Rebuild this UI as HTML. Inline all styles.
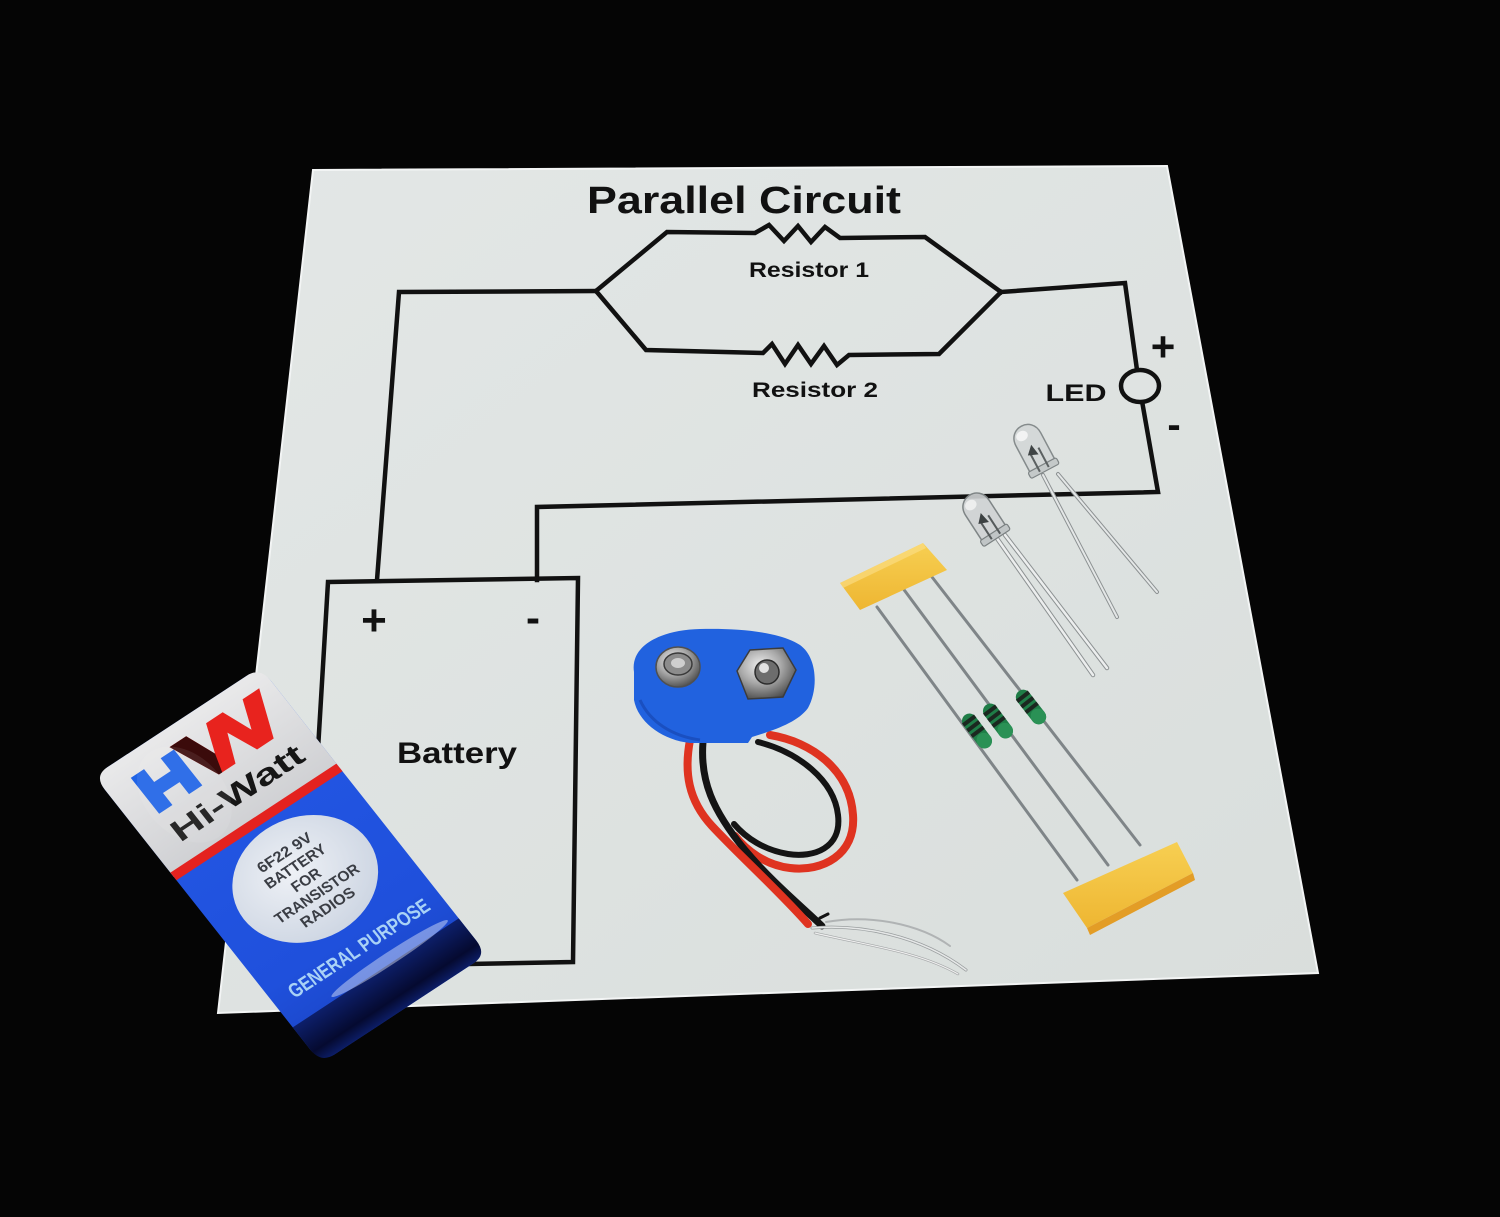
<!DOCTYPE html>
<html>
<head>
<meta charset="utf-8">
<style>
  html,body{margin:0;padding:0;background:#050505;}
  svg{display:block;}
  text{font-family:"Liberation Sans", Arial, sans-serif;}
</style>
</head>
<body>
<svg width="1500" height="1217" viewBox="0 0 1500 1217" xmlns="http://www.w3.org/2000/svg">
  <defs>
    <linearGradient id="paper" x1="0" y1="0" x2="1" y2="1">
      <stop offset="0" stop-color="#e3e7e6"/>
      <stop offset="1" stop-color="#d9dedc"/>
    </linearGradient>
    <linearGradient id="cap" x1="0" y1="0" x2="0" y2="1">
      <stop offset="0" stop-color="#e9e9ea"/>
      <stop offset="1" stop-color="#cfd0d3"/>
    </linearGradient>
    <linearGradient id="blue" x1="0" y1="0" x2="0" y2="1">
      <stop offset="0" stop-color="#2458e6"/>
      <stop offset="0.75" stop-color="#1f50dc"/>
      <stop offset="1" stop-color="#1a44c4"/>
    </linearGradient>
    <linearGradient id="navy" x1="0" y1="0" x2="0" y2="1">
      <stop offset="0" stop-color="#0d1f6a"/>
      <stop offset="0.7" stop-color="#050a30"/>
      <stop offset="1" stop-color="#0c1d66"/>
    </linearGradient>
    <radialGradient id="lbl" cx="0.45" cy="0.4" r="0.7">
      <stop offset="0" stop-color="#eef1f6"/>
      <stop offset="1" stop-color="#c9d2e0"/>
    </radialGradient>
    <radialGradient id="metal" cx="0.4" cy="0.35" r="0.7">
      <stop offset="0" stop-color="#f0f0f0"/>
      <stop offset="0.5" stop-color="#a8a8a8"/>
      <stop offset="1" stop-color="#4a4a4a"/>
    </radialGradient>
    <linearGradient id="tape" x1="0" y1="0" x2="0" y2="1">
      <stop offset="0" stop-color="#f7cf52"/>
      <stop offset="1" stop-color="#eeb632"/>
    </linearGradient>
  </defs>

  <!-- background -->
  <rect x="0" y="0" width="1500" height="1217" fill="#050505"/>

  <!-- paper -->
  <polygon points="313,170 1167,166 1318,973 218,1013" fill="url(#paper)" stroke="#f3f5f5" stroke-width="2"/>

  <!-- circuit wiring -->
  <g fill="none" stroke="#111" stroke-width="4.5" stroke-linejoin="miter" stroke-linecap="square">
    <polyline points="377,580 399,292 596,291"/>
    <polyline points="596,291 667,232 755,233 769,225 784,241 798,226 811,242 825,227 840,238 925,237 1001,292"/>
    <polyline points="596,291 646,350 763,353 772,344 785,364 798,345 811,364 824,346 837,365 849,355 939,354 1001,292"/>
    <polyline points="1001,292 1125,283 1137,370"/>
    <polyline points="1142,401 1158,492 537,507 537,580"/>
    <ellipse cx="1140" cy="386" rx="19" ry="16" fill="#dfe3e2"/>
    <polygon points="328,582 578,578 573,962 305,967"/>
  </g>

  <!-- labels -->
  <g fill="#111" font-weight="bold">
    <text x="744" y="213" text-anchor="middle" font-size="38" textLength="314" lengthAdjust="spacingAndGlyphs">Parallel Circuit</text>
    <text x="809" y="277" text-anchor="middle" font-size="21" textLength="120" lengthAdjust="spacingAndGlyphs">Resistor 1</text>
    <text x="815" y="397" text-anchor="middle" font-size="21" textLength="126" lengthAdjust="spacingAndGlyphs">Resistor 2</text>
    <text x="1076" y="401" text-anchor="middle" font-size="24" textLength="61" lengthAdjust="spacingAndGlyphs">LED</text>
    <text x="1163" y="361" text-anchor="middle" font-size="42">+</text>
    <text x="1174" y="438" text-anchor="middle" font-size="40">-</text>
    <text x="374" y="635" text-anchor="middle" font-size="44">+</text>
    <text x="533" y="632" text-anchor="middle" font-size="42">-</text>
    <text x="457" y="763" text-anchor="middle" font-size="30" textLength="120" lengthAdjust="spacingAndGlyphs">Battery</text>
  </g>

  <!-- 9V battery -->
  <g transform="matrix(0.83,-0.545,0.676,0.855,94,776)">
    <rect x="0" y="0" width="200" height="336" rx="16" fill="url(#blue)"/>
    <path d="M0,118 L0,16 Q0,0 16,0 L184,0 Q200,0 200,16 L200,118 Z" fill="url(#cap)"/>
    <rect x="0" y="113" width="200" height="9" fill="#e4221f"/>
    <path d="M28,20 L44,20 L44,35 L64,35 L64,20 L80,20 L80,62 L64,62 L64,48 L44,48 L44,62 L28,62 Z" fill="#1f63e6"/>
    <polygon points="78,16 98,16 110,44 122,16 142,16 154,44 166,16 186,16 166,62 146,62 133,34 120,62 100,62" fill="#e8231e"/>
    <polygon points="78,16 98,16 110,44 104,62 100,62" fill="#3b0b0b"/>
    <text x="103" y="95" text-anchor="middle" font-size="28" font-weight="900" fill="#161616" textLength="153" lengthAdjust="spacingAndGlyphs">Hi-Watt</text>
    <ellipse cx="103" cy="186" rx="74" ry="58" fill="url(#lbl)"/>
    <g fill="#3a3d44" font-size="14" text-anchor="middle" font-weight="bold">
      <text x="103" y="160" textLength="62" lengthAdjust="spacingAndGlyphs">6F22 9V</text>
      <text x="103" y="176" textLength="70" lengthAdjust="spacingAndGlyphs">BATTERY</text>
      <text x="103" y="192" textLength="32" lengthAdjust="spacingAndGlyphs">FOR</text>
      <text x="103" y="208" textLength="98" lengthAdjust="spacingAndGlyphs">TRANSISTOR</text>
      <text x="103" y="224" textLength="62" lengthAdjust="spacingAndGlyphs">RADIOS</text>
    </g>
    <text x="102" y="273" text-anchor="middle" font-size="19" font-weight="bold" fill="#a9d2f6" textLength="165" lengthAdjust="spacingAndGlyphs">GENERAL PURPOSE</text>
    <path d="M0,294 L200,294 L200,320 Q200,336 184,336 L16,336 Q0,336 0,320 Z" fill="url(#navy)"/>
    <ellipse cx="120" cy="290" rx="70" ry="6" fill="#ffffff" opacity="0.4"/>
    <ellipse cx="60" cy="60" rx="40" ry="50" fill="#ffffff" opacity="0.08"/>
  </g>

  <!-- snap connector wires -->
  <g fill="none" stroke-linecap="round" stroke-linejoin="round">
    <path d="M770,735 C812,742 850,770 853,815 C856,855 822,872 790,868 C765,865 746,850 735,836" stroke="#df3320" stroke-width="8"/>
    <path d="M758,742 C798,752 834,780 838,815 C842,848 814,858 788,854 C764,850 746,838 734,824" stroke="#141414" stroke-width="6"/>
    <path d="M703,742 C700,780 712,810 745,850 C770,880 800,905 822,926" stroke="#141414" stroke-width="7"/>
    <path d="M690,740 C684,772 688,800 712,826 C740,856 780,892 808,924" stroke="#df3320" stroke-width="8"/>
    <path d="M812,928 C860,924 920,935 966,970" stroke="#9a9e9f" stroke-width="3"/>
    <path d="M812,928 C860,924 920,935 966,970" stroke="#e6e8e8" stroke-width="1.5"/>
    <path d="M815,933 C870,946 920,952 958,974" stroke="#a3a6a7" stroke-width="2.5"/>
    <path d="M815,933 C870,946 920,952 958,974" stroke="#eeeeee" stroke-width="1.2"/>
    <path d="M826,922 C870,914 920,924 950,946" stroke="#b0b3b4" stroke-width="2"/>
    <path d="M820,918 L828,914" stroke="#141414" stroke-width="3"/>
  </g>

  <!-- snap body -->
  <path d="M634,672 C630,646 660,630 700,629 C740,628 780,632 800,645 C818,658 818,690 808,708 C798,722 775,730 752,737 L748,743 L690,743 C662,740 638,722 634,700 Z" fill="#2162df"/>
  <path d="M640,700 C650,722 672,736 700,740" fill="none" stroke="#1a4fc0" stroke-width="3"/>
  <ellipse cx="678" cy="667" rx="22" ry="20" fill="url(#metal)" stroke="#505050" stroke-width="1.5"/>
  <ellipse cx="678" cy="664" rx="14" ry="11" fill="#8c8c8c" stroke="#3a3a3a" stroke-width="1.5"/>
  <ellipse cx="678" cy="663" rx="7" ry="5" fill="#cfcfcf"/>
  <polygon points="737,671 750,650 783,648 796,670 783,697 748,699" fill="url(#metal)" stroke="#3c3c3c" stroke-width="1.5"/>
  <circle cx="767" cy="672" r="12" fill="#6d6d6d" stroke="#2c2c2c" stroke-width="1.5"/>
  <circle cx="764" cy="668" r="5" fill="#e2e2e2"/>

  <!-- resistor leads -->
  <g fill="none" stroke="#7f8588" stroke-width="3" stroke-linecap="round">
    <path d="M877,607 L1077,880"/>
    <path d="M902,587 L1108,865"/>
    <path d="M932,577 L1140,845"/>
  </g>
  <g>
    <g transform="translate(977,731) rotate(53)">
      <rect x="-20" y="-7.5" width="40" height="15" rx="7.5" fill="#1f7d47"/>
      <rect x="-15" y="-7.5" width="4" height="15" fill="#1b2820"/>
      <rect x="-8" y="-7.5" width="4" height="15" fill="#1b2820"/>
      <rect x="-1" y="-7.5" width="4" height="15" fill="#1b2820"/>
      <ellipse cx="12" cy="0" rx="8" ry="7.5" fill="#2a9155"/>
    </g>
    <g transform="translate(998,721) rotate(53)">
      <rect x="-20" y="-7.5" width="40" height="15" rx="7.5" fill="#1f7d47"/>
      <rect x="-15" y="-7.5" width="4" height="15" fill="#1b2820"/>
      <rect x="-8" y="-7.5" width="4" height="15" fill="#1b2820"/>
      <rect x="-1" y="-7.5" width="4" height="15" fill="#1b2820"/>
      <ellipse cx="12" cy="0" rx="8" ry="7.5" fill="#2a9155"/>
    </g>
    <g transform="translate(1031,707) rotate(52)">
      <rect x="-20" y="-7.5" width="40" height="15" rx="7.5" fill="#1f7d47"/>
      <rect x="-15" y="-7.5" width="4" height="15" fill="#1b2820"/>
      <rect x="-8" y="-7.5" width="4" height="15" fill="#1b2820"/>
      <rect x="-1" y="-7.5" width="4" height="15" fill="#1b2820"/>
      <ellipse cx="12" cy="0" rx="8" ry="7.5" fill="#2a9155"/>
    </g>
  </g>

  <!-- tapes -->
  <polygon points="840,583 923,543 947,570 860,610" fill="url(#tape)"/>
  <polygon points="840,583 923,543 926,548 843,588" fill="#fbe08a" opacity="0.6"/>
  <polygon points="1063,893 1177,842 1193,873 1087,928" fill="url(#tape)"/>
  <polygon points="1087,928 1193,873 1195,880 1090,935" fill="#e39d26"/>

  <!-- LED legs -->
  <g fill="none" stroke-linecap="round">
    <path d="M1043,475 L1117,617 M1058,474 L1157,592" stroke="#8c9192" stroke-width="4"/>
    <path d="M1043,475 L1117,617 M1058,474 L1157,592" stroke="#e4e7e7" stroke-width="2"/>
    <path d="M996,537 L1093,675 M1005,535 L1107,668" stroke="#8c9192" stroke-width="4.5"/>
    <path d="M996,537 L1093,675 M1005,535 L1107,668" stroke="#eceeee" stroke-width="2.5"/>
  </g>
  <g transform="translate(1034,450) rotate(-28)">
    <path d="M-14,22 L-14,-12 C-14,-32 14,-32 14,-12 L14,22 Z" fill="#d3d7d7" fill-opacity="0.9" stroke="#858b8c" stroke-width="1.5"/>
    <rect x="-16" y="17" width="32" height="7" rx="2" fill="#c4c9c9" stroke="#7e8485" stroke-width="1.2"/>
    <path d="M-5,22 L-5,2 M5,22 L5,0" stroke="#5c6162" stroke-width="2"/>
    <path d="M-8,2 L0,-6 L2,6 Z" fill="#3f4445"/>
    <ellipse cx="-4" cy="-18" rx="6" ry="5" fill="#ffffff" opacity="0.7"/>
  </g>
  <g transform="translate(984,518) rotate(-33)">
    <path d="M-14,22 L-14,-12 C-14,-32 14,-32 14,-12 L14,22 Z" fill="#cfd3d4" fill-opacity="0.9" stroke="#7f8586" stroke-width="1.5"/>
    <rect x="-16" y="17" width="32" height="7" rx="2" fill="#c0c5c6" stroke="#7a8081" stroke-width="1.2"/>
    <path d="M-5,22 L-5,2 M5,22 L5,0" stroke="#565b5c" stroke-width="2"/>
    <path d="M-8,2 L0,-6 L2,6 Z" fill="#3c4142"/>
    <ellipse cx="-4" cy="-18" rx="6" ry="5" fill="#ffffff" opacity="0.6"/>
  </g>
</svg>
</body>
</html>
